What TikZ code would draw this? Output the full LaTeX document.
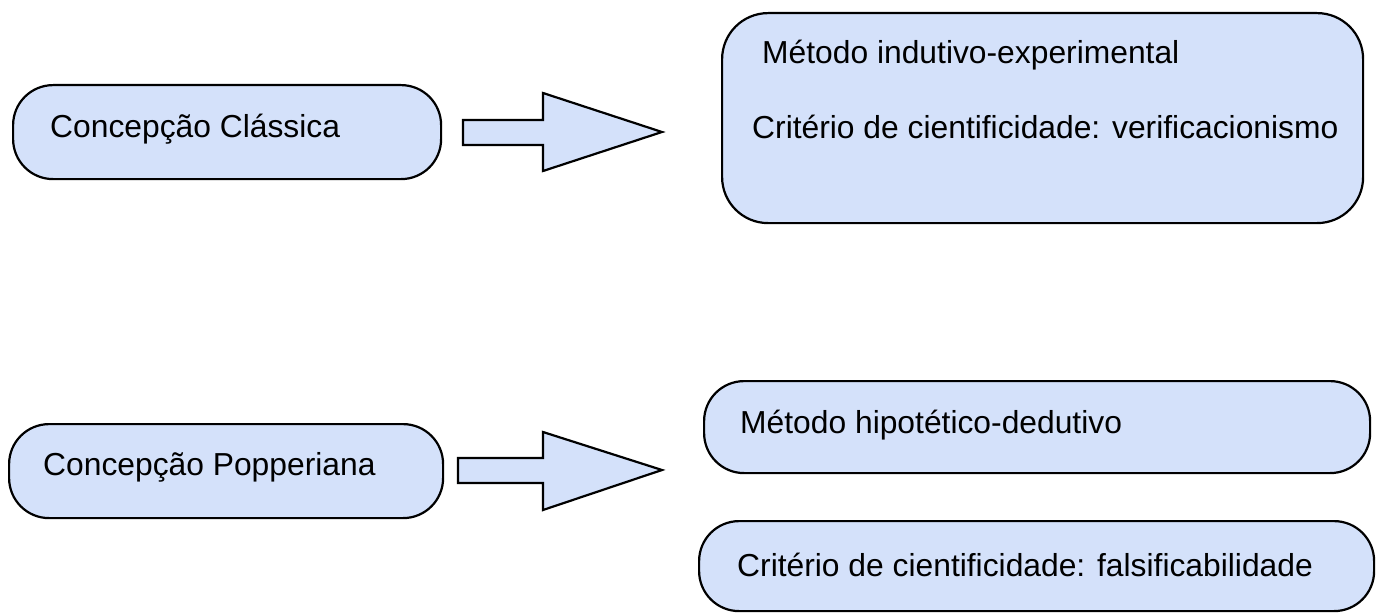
\documentclass[tikz,border=0pt]{standalone}
\usepackage{fontspec}
\setmainfont{Liberation Sans}
\definecolor{boxfill}{RGB}{212,225,250}
\begin{document}
\begin{tikzpicture}[x=1pt,y=-1pt,
  box/.style={draw=black, fill=boxfill, line width=2.2pt, rounded corners=40pt, inner sep=0pt, anchor=north west},
  lbl/.style={anchor=base west, inner sep=0pt, font=\fontsize{31.8}{38}\selectfont},
  blockarrow/.style={draw=black, fill=boxfill, line width=2.2pt, line join=miter}]
\useasboundingbox (0,0) rectangle (1380,615);
% boxes
\node[box, minimum width=428pt, minimum height=94pt] (A) at (12,84) {};
\node[box, minimum width=641pt, minimum height=210pt, rounded corners=46pt] (B) at (721,12) {};
\node[box, minimum width=434pt, minimum height=94pt] (C) at (8,423) {};
\node[box, minimum width=666pt, minimum height=92pt] (D) at (703,380) {};
\node[box, minimum width=675pt, minimum height=90pt] (E) at (698,520) {};
% labels
\node[lbl] (tA) at (50,137) {Concepção Clássica};
\node[lbl] (tB1) at (762,64) {Método indutivo-experimental};
\node[lbl] (tB2) at (752,138) {Critério de cientificidade: verificacionismo};
\node[lbl] (tC) at (43,475) {Concepção Popperiana};
\node[lbl] (tD) at (740,433) {Método hipotético-dedutivo};
\node[lbl] (tE) at (737,576) {Critério de cientificidade: falsificabilidade};
% block arrows
\draw[blockarrow] (463,120) -- (543,120) -- (543,93) -- (662,132) -- (543,171) -- (543,145) -- (463,145) -- cycle;
\draw[blockarrow] (458,458) -- (543,458) -- (543,432) -- (662,470) -- (543,510) -- (543,483) -- (458,483) -- cycle;
\end{tikzpicture}
\end{document}
